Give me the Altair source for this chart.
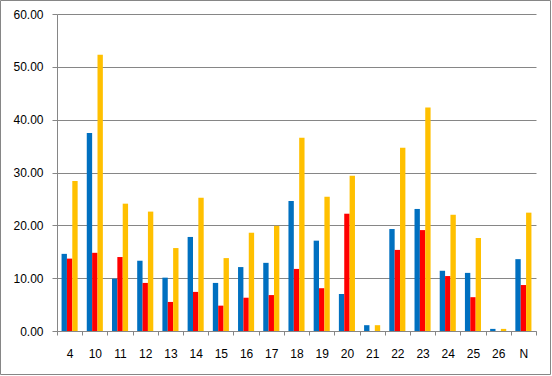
import altair as alt
import pandas as pd

categories = ["4", "10", "11", "12", "13", "14", "15", "16", "17", "18",
              "19", "20", "21", "22", "23", "24", "25", "26", "N"]
series_names = ["A", "B", "C"]
blue_values = [14.6, 37.5, 9.9, 13.3, 10.1, 17.8, 9.1, 12.1, 12.9, 24.6,
               17.1, 7.0, 1.1, 19.3, 23.1, 11.4, 11.0, 0.4, 13.6]
red_values = [13.7, 14.8, 14.0, 9.1, 5.5, 7.4, 4.8, 6.3, 6.8, 11.75,
              8.1, 22.2, 0.0, 15.35, 19.1, 10.4, 6.4, 0.0, 8.7]
yellow_values = [28.4, 52.3, 24.1, 22.6, 15.7, 25.2, 13.8, 18.6, 19.9, 36.6,
                 25.4, 29.4, 1.1, 34.7, 42.3, 22.0, 17.6, 0.4, 22.4]
colors = ["#0070C0", "#FF0000", "#FFC000"]

rows = []
for i, c in enumerate(categories):
    for s, vals in zip(series_names, [blue_values, red_values, yellow_values]):
        rows.append({"cat": c, "series": s, "value": vals[i]})
df = pd.DataFrame(rows)

W, H = 479, 317
PL, PT = 57, 14
PR, PB = 552 - PL - W, 376 - PT - H

font = "Liberation Sans"
grey = "#868686"

bars = alt.Chart(df).mark_bar().encode(
    x=alt.X("cat:N", sort=categories,
            scale=alt.Scale(paddingInner=0, paddingOuter=0),
            axis=alt.Axis(title=None, labelAngle=0, tickBand="extent",
                          tickSize=4, tickColor=grey, domainColor=grey,
                          labelPadding=13, labelFont=font, labelFontSize=12,
                          labelColor="#000000", grid=False)),
    xOffset=alt.XOffset("series:N", sort=series_names,
                        scale=alt.Scale(paddingInner=0, paddingOuter=0.85)),
    y=alt.Y("value:Q", scale=alt.Scale(domain=[0, 60], nice=False),
            axis=alt.Axis(title=None, values=[0, 10, 20, 30, 40, 50, 60],
                          format=".2f", tickSize=5, tickColor=grey,
                          domainColor=grey, gridColor=grey, gridOpacity=1,
                          labelPadding=9, labelFont=font, labelFontSize=12,
                          labelColor="#000000")),
    color=alt.Color("series:N", sort=series_names,
                    scale=alt.Scale(domain=series_names, range=colors),
                    legend=None),
)

frame = alt.Chart(pd.DataFrame({"a": [0]})).mark_rect(
    fill=None, stroke=grey, strokeWidth=1, clip=False
).encode(
    x=alt.value(-PL + 0.5), x2=alt.value(W + PR - 1.5),
    y=alt.value(-PT + 0.5), y2=alt.value(H + PB - 1.5),
)

chart = alt.layer(bars, frame).properties(
    width=W, height=H,
    autosize=alt.AutoSizeParams(type="none"),
    padding={"left": PL, "top": PT, "right": PR, "bottom": PB},
    background="white",
).configure_view(stroke=None)

chart.save("out.html", embed_options={"renderer": "svg", "actions": False})
